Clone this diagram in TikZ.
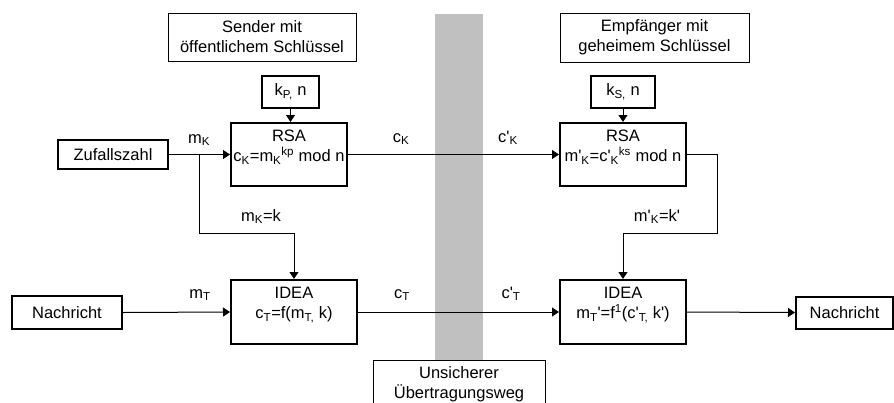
\documentclass[tikz,border=0pt]{standalone}
\usepackage{fontspec}
\setmainfont{Liberation Sans}
\usetikzlibrary{arrows.meta}
\newcommand\qq{\textquotesingle}
\newcommand\sbs[1]{\textsubscript{#1}}
\newcommand\sps[1]{\textsuperscript{#1}}
\begin{document}
\begin{tikzpicture}[x=1pt,y=-1pt,
  font=\fontsize{16.5}{20}\selectfont,
  thinbox/.style={draw,line width=1pt,inner sep=0pt,align=center,minimum width=#1},
  blockbox/.style={draw,line width=2pt,inner sep=0pt,align=center},
  txt/.style={inner sep=0pt,align=center},
  conn/.style={line width=1pt,-{Triangle[length=7pt,width=9pt]}},
  plain/.style={line width=1pt}]
\useasboundingbox (0,0) rectangle (894,402);
% gray channel
\fill[fill={rgb,255:red,192;green,192;blue,192}] (435,14) rectangle (483,360);
% headings
\node[thinbox=188pt,minimum height=48pt] (sender) at (262,37) {Sender mit\\öffentlichem Schlüssel};
\node[thinbox=189pt,minimum height=49pt] (empf) at (654.5,37.5) {Empfänger mit\\geheimem Schlüssel};
\draw[line width=1pt] (373,405) -- (373,360) -- (545,360) -- (545,405);
\node[txt] (unsich) at (459,384) {Unsicherer\\Übertragungsweg};
% key boxes
\node[blockbox,minimum width=57pt,minimum height=32pt] (kp) at (290.5,92) {k\sbs{P,} n};
\node[blockbox,minimum width=64pt,minimum height=32pt] (ks) at (623,92) {k\sbs{S,} n};
% RSA boxes
\node[blockbox,minimum width=116pt,minimum height=63pt] (rsa1) at (289,154.5) {};
\node[txt,anchor=north] (rsa1t) at ([yshift=-8pt]rsa1.north) {RSA\\c\sbs{K}=m\sbs{K}\sps{kp} mod n};
\node[blockbox,minimum width=126pt,minimum height=63pt] (rsa2) at (623,154.5) {};
\node[txt,anchor=north] (rsa2t) at ([yshift=-8pt]rsa2.north) {RSA\\m\qq\sbs{K}=c\qq\sbs{K}\sps{ks} mod n};
% IDEA boxes
\node[blockbox,minimum width=126pt,minimum height=64pt] (idea1) at (294,312) {};
\node[txt,anchor=north] (idea1t) at ([yshift=-8pt]idea1.north) {IDEA\\c\sbs{T}=f(m\sbs{T,} k)};
\node[blockbox,minimum width=126pt,minimum height=64pt] (idea2) at (623,312) {};
\node[txt,anchor=north] (idea2t) at ([yshift=-8pt]idea2.north) {IDEA\\m\sbs{T}\qq=f\sps{1}(c\qq\sbs{T,} k\qq)};
% sources / sinks
\node[blockbox,minimum width=110pt,minimum height=29pt] (zuf) at (113,154.5) {Zufallszahl};
\node[blockbox,minimum width=110pt,minimum height=33pt] (nach1) at (67,312.5) {Nachricht};
\node[blockbox,minimum width=97pt,minimum height=32pt] (nach2) at (844.5,312.5) {Nachricht};
% junction coordinates
\coordinate (br) at (199,154.5);
\coordinate (rt) at (717,154.5);
% connectors
\draw[conn] (zuf.east) -- (rsa1.west);
\draw[plain] (br) -- (199,233) -- (294,233);
\draw[conn] (294,233) -- (idea1.north);
\draw[conn] (kp.south) -- (kp.south |- rsa1.north);
\draw[conn] (ks.south) -- (ks.south |- rsa2.north);
\draw[conn] (rsa1.east) -- (rsa2.west);
\draw[plain] (rsa2.east) -- (rt) -- (717,233) -- (623,233);
\draw[conn] (623,233) -- (idea2.north);
\draw[conn] (nach1.east) -- (idea1.west);
\draw[conn] (idea1.east) -- (idea2.west);
\draw[conn] (idea2.east) -- (nach2.west);
% connector labels
\node[txt,anchor=base] (lmk) at (199,143) {m\sbs{K}};
\node[txt,anchor=base] (lck) at (401,142) {c\sbs{K}};
\node[txt,anchor=base] (lcpk) at (508,142) {c\qq\sbs{K}};
\node[txt,anchor=base] (lmkk) at (261,221) {m\sbs{K}=k};
\node[txt,anchor=base] (lmpk) at (657,221) {m\qq\sbs{K}=k\qq};
\node[txt,anchor=base] (lmt) at (200,298) {m\sbs{T}};
\node[txt,anchor=base] (lct) at (402,298) {c\sbs{T}};
\node[txt,anchor=base] (lcpt) at (511,298) {c\qq\sbs{T}};
\end{tikzpicture}
\end{document}
